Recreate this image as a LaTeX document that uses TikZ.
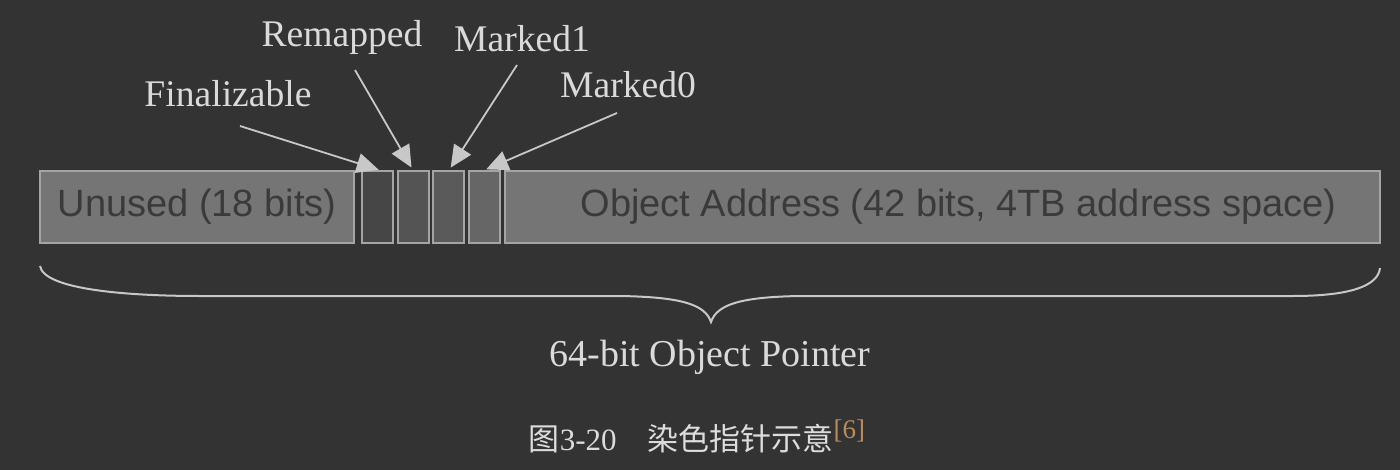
\documentclass[tikz,border=0pt]{standalone}
\usepackage{fontspec}
\setmainfont{Liberation Serif}
\setsansfont{Liberation Sans}
\newfontfamily\cjk{Noto Sans CJK SC}
\usepackage{xcolor}
\usetikzlibrary{positioning}
\usetikzlibrary{arrows.meta}

\definecolor{bgdark}{HTML}{333333}
\definecolor{fieldgray}{HTML}{757575}
\definecolor{boxline}{HTML}{A4A4A4}
\definecolor{fieldtext}{HTML}{3A3A3A}
\definecolor{labeltext}{HTML}{DADADA}
\definecolor{linegray}{HTML}{C8C8C8}
\definecolor{refcolor}{HTML}{B98C5C}
\definecolor{finfill}{HTML}{464646}
\definecolor{remapfill}{HTML}{545454}
\definecolor{mark1fill}{HTML}{5B5A5A}
\definecolor{mark0fill}{HTML}{666666}

\tikzset{
  field/.style={draw=boxline, fill=fieldgray, line width=1pt, minimum height=36pt,
    inner sep=0pt, outer sep=0pt, font=\sffamily\fontsize{19}{22}\selectfont, text=fieldtext},
  flagbit/.style={draw=boxline, line width=1pt, minimum width=15.5pt, minimum height=36pt,
    inner sep=0pt, outer sep=0pt},
  flagname/.style={anchor=base, inner sep=0pt, text=labeltext, font=\fontsize{18.8}{22}\selectfont},
  pointer/.style={draw=linegray, line width=0.9pt, -{Triangle[length=11pt,width=10pt]}, shorten >=2pt},
}

\begin{document}
\begin{tikzpicture}[x=0.5pt,y=-0.5pt]
   \fill[bgdark] (0,0) rectangle (1400,470);
   \useasboundingbox (0,0) rectangle (1400,470);
   % the pointer word
   \node[field, minimum width=157pt] (unused) at (197,207) {Unused (18 bits)};
   \node[flagbit, fill=finfill] (fin) [right=4pt of unused] {};
   \node[flagbit, fill=remapfill] (remap) [right=2.5pt of fin] {};
   \node[flagbit, fill=mark1fill] (mark1) [right=2pt of remap] {};
   \node[flagbit, fill=mark0fill] (mark0) [right=2.5pt of mark1] {};
   \node[field, minimum width=437.5pt] (addr) [right=2.5pt of mark0] {\hspace*{16pt}Object Address (42 bits, 4TB address space)};
   % flag names
   \node[flagname] (finlabel) at (228,107) {Finalizable};
   \node[flagname] (remaplabel) at (342,47) {Remapped};
   \node[flagname] (mark1label) at (522,52) {Marked1};
   \node[flagname] (mark0label) at (628,98) {Marked0};
   \draw[pointer] ([shift={(12,19)}]finlabel.base) -- ([xshift=2.5pt]fin.north);
   \draw[pointer] ([shift={(13,23)}]remaplabel.base) -- (remap.north);
   \draw[pointer] ([shift={(-5,13)}]mark1label.base) -- (mark1.north);
   \draw[pointer] ([shift={(-11,15)}]mark0label.base) -- ([xshift=-1pt]mark0.north);
   % brace
   \coordinate (bl) at (40,266);
   \coordinate (tip) at (711,322);
   \coordinate (br) at (1380,268);
   \draw[linegray, line width=1pt] (bl) .. controls (44,290) and (130,296) .. (200,296)
      -- (620,296) .. controls (680,297) and (705,304) .. (tip)
      .. controls (717,304) and (742,297) .. (800,296) -- (1293,296)
      .. controls (1350,296) and (1378,286) .. (br);
   \node[anchor=base, inner sep=0pt, text=labeltext, font=\fontsize{19}{22}\selectfont] (ptr) at (710,366) {64-bit Object Pointer};
   % caption
   \node[anchor=base, inner sep=0pt, text=labeltext!95!white] (caption) at (697,450)
      {\fontsize{15.5}{18}\selectfont\cjk 图\rmfamily 3-20\cjk\quad 染色指针示意\rmfamily\textcolor{refcolor}{\raisebox{6pt}{\fontsize{13.5}{16}\selectfont[6]}}};
 \end{tikzpicture}
\end{document}
